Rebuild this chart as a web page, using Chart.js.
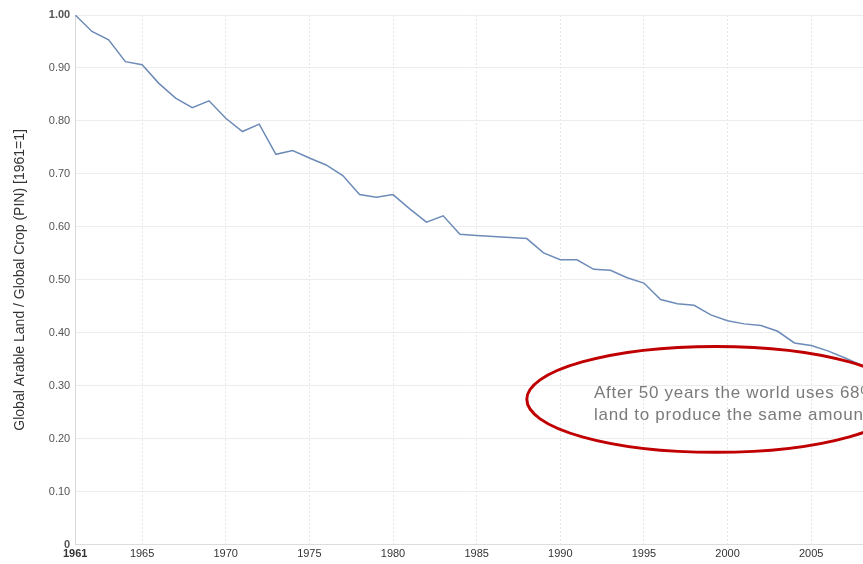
<!DOCTYPE html>
<html>
<head>
<meta charset="utf-8">
<script src="https://cdn.jsdelivr.net/npm/chart.js@4.4.1/dist/chart.umd.min.js"></script>
<style>
  html, body { margin: 0; padding: 0; background: #fff; }
  #wrap { width: 863px; height: 564px; position: relative; }
</style>
</head>
<body>
<div id="wrap"><canvas id="myChart"></canvas></div>
<script>
// years and land-per-crop ratio (1961 = 1)
const years = [1961,1962,1963,1964,1965,1966,1967,1968,1969,1970,
  1971,1972,1973,1974,1975,1976,1977,1978,1979,1980,
  1981,1982,1983,1984,1985,1986,1987,1988,1989,1990,
  1991,1992,1993,1994,1995,1996,1997,1998,1999,2000,
  2001,2002,2003,2004,2005,2006,2007,2008,2009];
const ratio = [1.000,0.969,0.953,0.912,0.906,0.871,0.843,0.825,0.838,0.805,
  0.780,0.794,0.737,0.744,0.730,0.717,0.697,0.661,0.656,0.661,
  0.634,0.609,0.621,0.586,0.584,0.582,0.580,0.578,0.551,0.538,
  0.538,0.520,0.518,0.504,0.494,0.463,0.455,0.452,0.434,0.423,
  0.417,0.414,0.403,0.381,0.376,0.366,0.353,0.339,0.320];
const xTicks = [1961,1965,1970,1975,1980,1985,1990,1995,2000,2005];
const yLabel = 'Global Arable Land / Global Crop (PIN) [1961=1]';
const noteLines = ['After 50 years the world uses 68% less', 'land to produce the same amount of food.'];

const points = years.map((y, i) => ({x: y, y: ratio[i]}));

// red ellipse + note, placed in data units
const notePlugin = {
  id: 'note',
  afterDatasetsDraw(chart) {
    const c = chart.ctx, xs = chart.scales.x, ys = chart.scales.y;
    const cx = xs.getPixelForValue(1999.3), cy = ys.getPixelForValue(0.2745);
    const rx = xs.getPixelForValue(1999.3 + 11.3) - cx;
    const ry = ys.getPixelForValue(0.2745) - ys.getPixelForValue(0.3745);
    c.save();
    c.beginPath();
    c.ellipse(cx, cy, rx, ry, 0, 0, Math.PI * 2);
    c.strokeStyle = '#c00000';
    c.lineWidth = 3;
    c.stroke();
    c.fillStyle = '#7a7a7a';
    c.font = '17px "Liberation Sans", Arial, sans-serif';
    if ('letterSpacing' in c) c.letterSpacing = '0.7px';
    c.textBaseline = 'alphabetic';
    c.fillText(noteLines[0], 594, 398);
    c.fillText(noteLines[1], 594, 420);
    c.restore();
  }
};

const ctx = document.getElementById('myChart').getContext('2d');
const myChart = new Chart(ctx, {
  type: 'line',
  data: {
    datasets: [{
      data: points,
      borderColor: '#6d8bb8',
      borderWidth: 1.5,
      pointRadius: 0,
      tension: 0,
      fill: false
    }]
  },
  options: {
    responsive: true,
    maintainAspectRatio: false,
    animation: false,
    layout: { padding: { top: 15, right: 0, bottom: 0, left: 12 } },
    plugins: { legend: { display: false }, tooltip: { enabled: false } },
    scales: {
      x: {
        type: 'linear',
        min: 1961,
        max: 2008.1,
        afterBuildTicks: axis => { axis.ticks = xTicks.map(v => ({value: v})); },
        ticks: {
          autoSkip: false,
          maxRotation: 0,
          padding: 3,
          color: '#333',
          font: c => ({ family: '"Liberation Sans", Arial, sans-serif', size: 11,
                        weight: c.tick && c.tick.value === 1961 ? 'bold' : 'normal' }),
          callback: v => String(v)
        },
        grid: { color: '#e6e6e6', tickLength: 0, drawTicks: false },
        border: { display: true, color: '#ddd', dash: [2, 2] }
      },
      y: {
        min: 0,
        max: 1,
        ticks: {
          stepSize: 0.1,
          padding: 5,
          color: '#555',
          font: c => ({ family: '"Liberation Sans", Arial, sans-serif', size: 11,
                        weight: c.tick && (c.tick.value === 0 || c.tick.value === 1) ? 'bold' : 'normal' }),
          callback: v => v === 0 ? '0' : v.toFixed(2)
        },
        grid: { color: '#ececec', drawTicks: false },
        border: { display: true, color: '#d8d8d8' },
        title: {
          display: true,
          text: yLabel,
          color: '#333',
          padding: { top: 0, bottom: 15 },
          font: { family: '"Liberation Sans", Arial, sans-serif', size: 14 }
        }
      }
    }
  },
  plugins: [notePlugin]
});
</script>
</body>
</html>
